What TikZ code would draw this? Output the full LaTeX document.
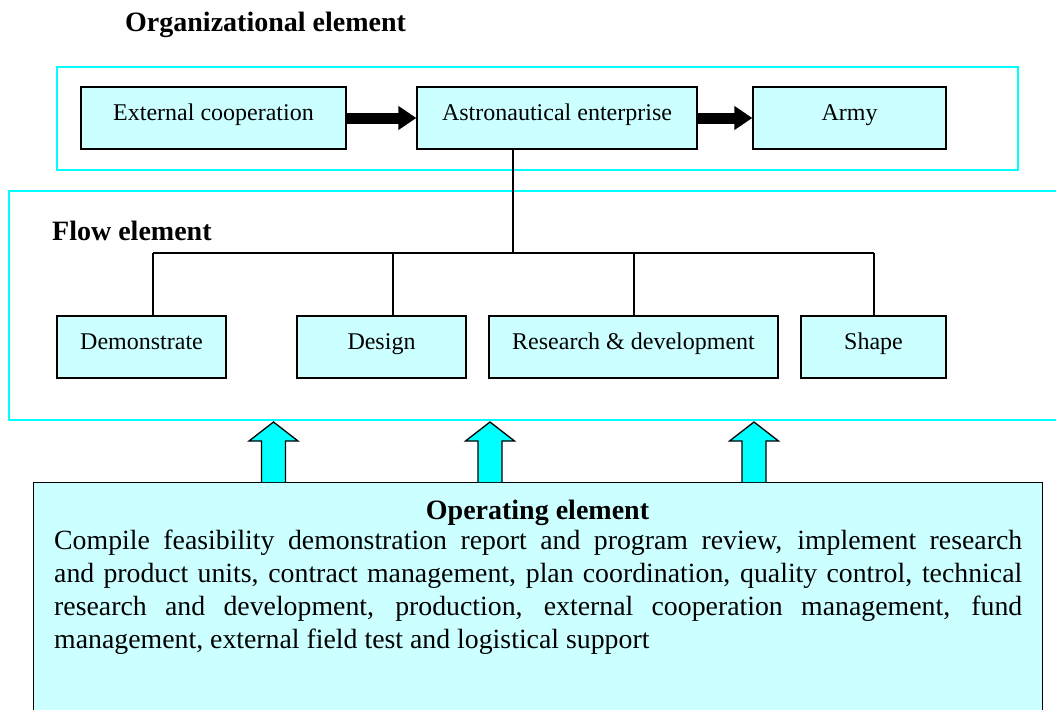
\documentclass[tikz,border=0pt]{standalone}
\usepackage{fontspec}
\setmainfont{Liberation Serif}
\usetikzlibrary{arrows.meta}
\definecolor{frame}{RGB}{0,255,255}
\definecolor{boxfill}{RGB}{204,255,255}
\definecolor{arrowfill}{RGB}{0,255,255}
\tikzset{
  groupframe/.style={draw=frame, line width=2pt},
  elembox/.style={draw=black, fill=boxfill, line width=1.4pt, inner sep=0pt,
    minimum height=62pt, text height=33pt, text depth=29pt,
    font=\fontsize{24}{28}\selectfont},
  heading/.style={inner sep=0pt, anchor=base west, font=\fontsize{28}{33}\selectfont\bfseries},
  link/.style={draw=black, line width=1.3pt},
  blockarrow/.style={line width=11pt, -{Triangle[length=18pt,width=23pt]}},
  uparrow/.style={draw=black, fill=arrowfill, line width=1.3pt, line join=miter},
}
\begin{document}
\begin{tikzpicture}[x=1pt,y=-1pt]
\useasboundingbox (0,0) rectangle (1056,709);
% frames
\draw[groupframe] (57,67) rectangle (1018,170);
\draw[groupframe] (9,191) rectangle (1062,420);
% headings
\node[heading] (orgtitle) at (125,32) {Organizational element};
\node[heading] (flowtitle) at (52,240) {Flow element};
% organizational boxes
\node[elembox, minimum width=265pt] (ext) at (213.5,118) {External cooperation};
\node[elembox, minimum width=280pt] (astro) at (557,118) {Astronautical enterprise};
\node[elembox, minimum width=193pt] (army) at (849.5,118) {Army};
\draw[blockarrow] (ext.east) -- (astro.west);
\draw[blockarrow] (astro.east) -- (army.west);
% flow boxes
\node[elembox, minimum width=169pt] (demo) at (141.5,347) {Demonstrate};
\node[elembox, minimum width=169pt] (design) at (381.5,347) {Design};
\node[elembox, minimum width=289pt] (rd) at (633.5,347) {Research \& development};
\node[elembox, minimum width=145pt] (shape) at (873.5,347) {Shape};
% tree connectors
\coordinate (bus) at (513,253);
\coordinate (b1) at (153,253);
\coordinate (b2) at (393,253);
\coordinate (b3) at (634,253);
\coordinate (b4) at (874,253);
\draw[link] (astro.south -| bus) -- (bus);
\draw[link] (b1) -- (b4);
\draw[link] (b1) -- (b1 |- demo.north);
\draw[link] (b2) -- (b2 |- design.north);
\draw[link] (b3) -- (b3 |- rd.north);
\draw[link] (b4) -- (b4 |- shape.north);
% operating element box
\node[draw=black, fill=boxfill, line width=1.4pt, inner sep=0pt, anchor=north west,
  minimum width=1009pt, minimum height=240pt] (op) at (33,482) {};
\foreach \x in {273.5,490,754}{
  \draw[uparrow] ({\x-12},482) -- ({\x-12},441) -- ({\x-24.5},441) -- (\x,422)
    -- ({\x+24.5},441) -- ({\x+12},441) -- ({\x+12},482);
}
\node[inner sep=0pt, anchor=base, font=\fontsize{28}{33}\selectfont\bfseries] (optitle) at (537.5,519) {Operating element};
\node[inner sep=0pt, anchor=base west, text width=968pt, align=justify,
  font=\fontsize{27.8}{33}\selectfont] (optext) at (54,549) {%
Compile feasibility demonstration report and program review, implement research\linebreak
and product units, contract management, plan coordination, quality control, technical\linebreak
research and development, production, external cooperation management, fund\linebreak
management, external field test and logistical support};
\end{tikzpicture}
\end{document}
